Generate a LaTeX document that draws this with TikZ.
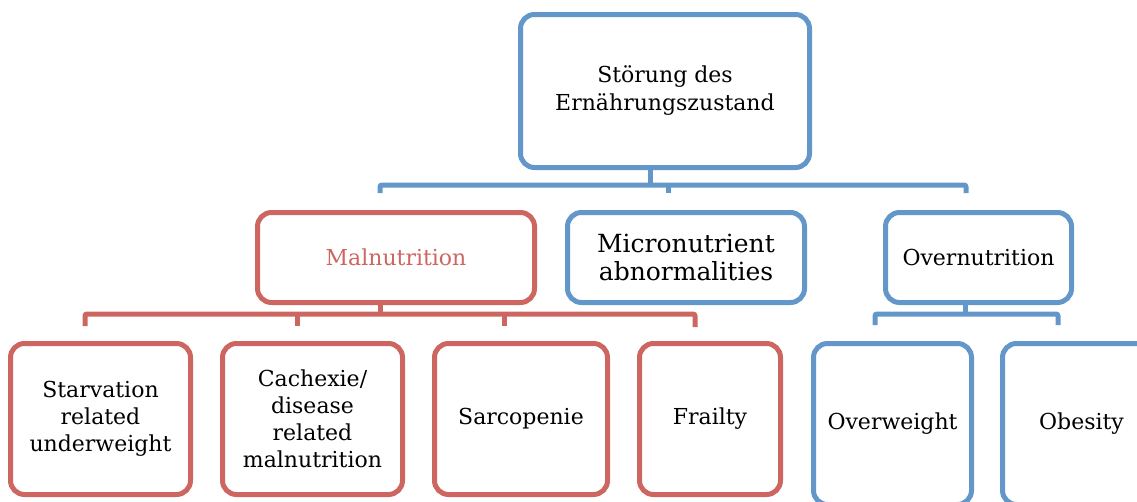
\documentclass[tikz,border=0pt]{standalone}
\usepackage{fontspec}
\setmainfont{DejaVu Serif}
\definecolor{sred}{RGB}{205,102,96}
\definecolor{sblue}{RGB}{99,151,201}
\begin{document}
\begin{tikzpicture}[x=1pt,y=-1pt,
  box/.style={draw, line width=5pt, rounded corners=14pt, align=center, inner sep=0pt, fill=white,
    font=\fontsize{22}{27}\selectfont},
  redbox/.style={box, draw=sred},
  bluebox/.style={box, draw=sblue},
  redline/.style={draw=sred, line width=5pt, rounded corners=2pt},
  blueline/.style={draw=sblue, line width=5pt, rounded corners=2pt}]
\useasboundingbox (0,0) rectangle (1137,501);
\clip (0,0) rectangle (1137,501);

% top
\node[bluebox, minimum width=289pt, minimum height=153pt, font=\fontsize{22}{28}\selectfont] (top) at (665,91) {Störung des\\Ernährungszustand};

% middle row
\node[redbox, minimum width=277pt, minimum height=90pt, text=sred] (mal) at (396,257.5) {Malnutrition};
\node[bluebox, minimum width=237pt, minimum height=90pt, font=\fontsize{25}{28}\selectfont] (mic) at (686,257.5) {Micronutrient\\abnormalities};
\node[bluebox, minimum width=186pt, minimum height=90pt] (ovn) at (978.5,257.5) {Overnutrition};

% bottom row
\node[redbox, minimum width=180pt, minimum height=151pt] (sta) at (100.5,419) {Starvation\\related\\underweight};
\node[redbox, minimum width=180pt, minimum height=151pt] (cac) at (312.5,419) {Cachexie/\\disease\\related\\malnutrition};
\node[redbox, minimum width=173pt, minimum height=151pt] (sar) at (521,419) {Sarcopenie};
\node[redbox, minimum width=141pt, minimum height=151pt] (fra) at (710,419) {Frailty};
\node[bluebox, minimum width=158pt, minimum height=161pt] (ovw) at (892.5,424) {Overweight};
\node[bluebox, minimum width=158pt, minimum height=161pt] (obe) at (1081.5,424) {Obesity};

% top connector
\coordinate (tj) at (650,185);
\coordinate (t1) at (380,193);
\coordinate (t2) at (668,193);
\coordinate (t3) at (966,193);
\draw[blueline] (top.south -| tj) -- (tj);
\draw[blueline] (t1) -- (t1 |- tj) -- (t3 |- tj) -- (t3);
\draw[blueline] (t2 |- tj) -- (t2);

% malnutrition connector
\coordinate (mj) at (380,314);
\coordinate (m1) at (85,326);
\coordinate (m2) at (297,326);
\coordinate (m3) at (504,326);
\coordinate (m4) at (695,327);
\draw[redline] (mal.south -| mj) -- (mj);
\draw[redline] (m1) -- (m1 |- mj) -- (m4 |- mj) -- (m4);
\draw[redline] (m2 |- mj) -- (m2);
\draw[redline] (m3 |- mj) -- (m3);

% overnutrition connector
\coordinate (oj) at (965,314);
\coordinate (o1) at (875,325);
\coordinate (o2) at (1058,325);
\draw[blueline] (ovn.south -| oj) -- (oj);
\draw[blueline] (o1) -- (o1 |- oj) -- (o2 |- oj) -- (o2);
\end{tikzpicture}
\end{document}
